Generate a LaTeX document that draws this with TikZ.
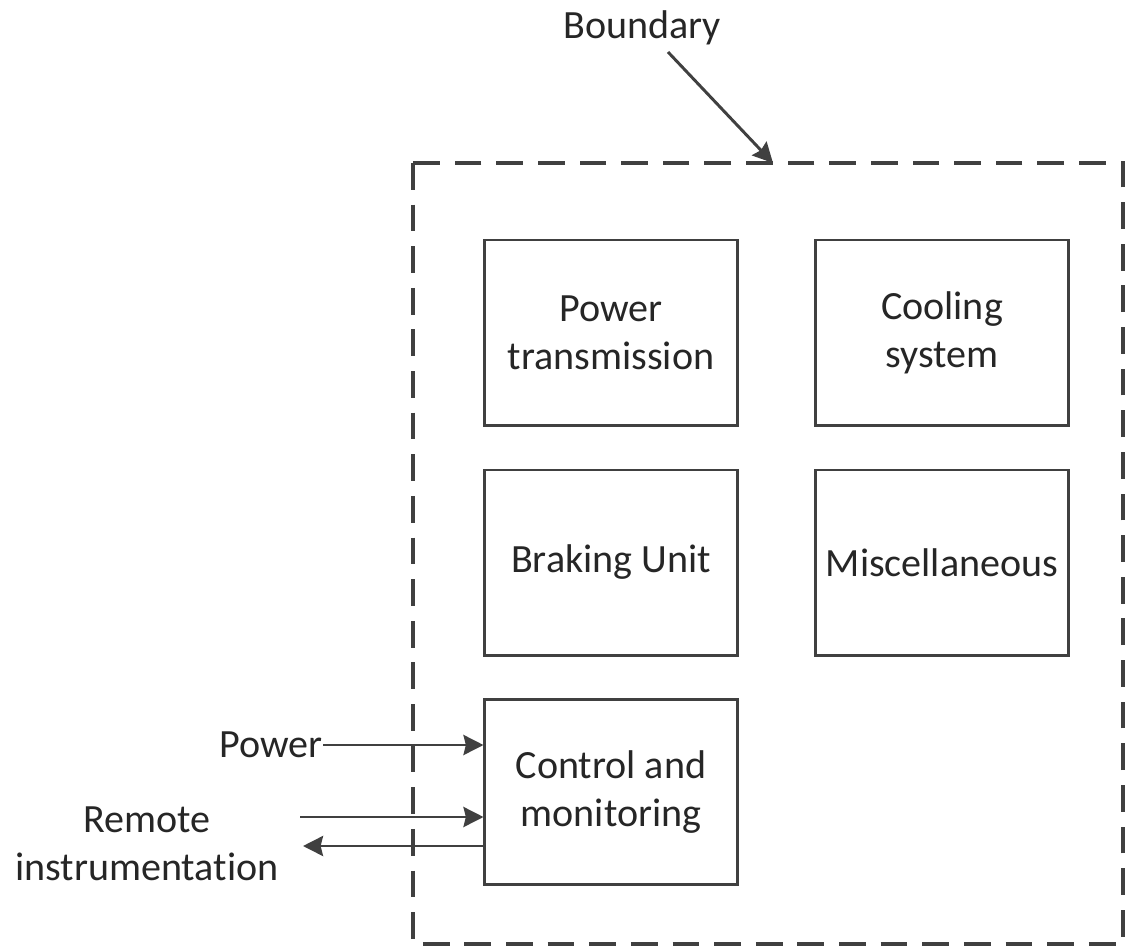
\documentclass[tikz,border=0pt]{standalone}
\usepackage{fontspec}
\setmainfont{Carlito}[Ligatures=NoCommon]
\usetikzlibrary{arrows.meta}
\definecolor{linegray}{HTML}{404040}
\definecolor{textgray}{HTML}{262626}

\begin{document}
\begin{tikzpicture}[x=0.025cm, y=-0.025cm,
    unit/.style={draw=linegray, line width=2.1pt, minimum width=6.3cm, minimum height=4.625cm,
                 align=center, text=textgray, font=\fontsize{28.5}{34}\selectfont},
    lbl/.style={align=center, text=textgray, font=\fontsize{28.5}{34}\selectfont, inner sep=0pt},
    flow/.style={draw=linegray, line width=2.1pt, -{Stealth[length=0.5cm, width=0.5cm, inset=0.06cm]}}]
    \useasboundingbox (0,0) rectangle (1133,948);
    % boundary of the system
    \draw[linegray, line width=2.3pt, dash pattern=on 19pt off 10.6pt] (413,163) rectangle (1123,944);
    \node[lbl] (bndtxt) at (642,28) {Boundary};
    \coordinate (bndfrom) at (668,52);
    \coordinate (bndto) at (773,163);
    \draw[flow] (bndfrom) -- (bndto);
    % units inside the boundary
    \node[unit] (trans) at (611,332.5) {Power\\transmission};
    \node[unit] (cool) at (942,332.5) {Cooling\\system};
    \node[unit] (brake) at (611,562.5) {Braking Unit};
    \node[unit] (misc) at (942,562.5) {Miscellaneous};
    \node[unit] (ctrl) at (611,792) {Control and\\monitoring};
    % signals from outside
    \node[lbl, anchor=east] (power) at (323,745) {Power};
    \node[lbl] (remote) at (147,844) {Remote\\instrumentation};
    \coordinate (rin) at (300,817);
    \coordinate (rout) at (303,846);
    \draw[flow] (power.east) -- (ctrl.west |- power.east);
    \draw[flow] (rin) -- (ctrl.west |- rin);
    \draw[flow] (ctrl.west |- rout) -- (rout);
\end{tikzpicture}
\end{document}
